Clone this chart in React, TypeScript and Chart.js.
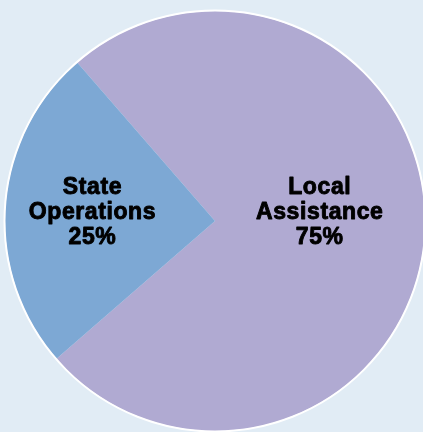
import React, { useEffect, useRef } from "react";
import { Chart, registerables } from "chart.js";

Chart.register(...registerables);

const categories = ["Local Assistance", "State Operations"];
const shareValues = [75, 25];
const labelLines = [["Local", "Assistance", "75%"], ["State", "Operations", "25%"]];
const sliceColors = ["#b0aad2", "#7da8d4"];

const outlinePlugin = {
  id: "outerOutline",
  afterDatasetsDraw(chart: any) {
    const { ctx } = chart;
    const arc: any = chart.getDatasetMeta(0).data[0];
    if (!arc) return;
    const { x, y, outerRadius } = arc.getProps(["x", "y", "outerRadius"], true);
    ctx.save();
    ctx.strokeStyle = "#ffffff";
    ctx.lineWidth = 2;
    ctx.beginPath();
    ctx.arc(x, y, outerRadius + 0.5, 0, Math.PI * 2);
    ctx.stroke();
    ctx.restore();
  },
};

const labelPlugin = {
  id: "sliceLabels",
  afterDatasetsDraw(chart: any) {
    const { ctx } = chart;
    const meta = chart.getDatasetMeta(0);
    const factors = [0.5, 0.585];
    ctx.save();
    ctx.font = "bold 23px 'Liberation Sans', Arial, sans-serif";
    try { (ctx as any).letterSpacing = "0.6px"; } catch (e) {}
    ctx.fillStyle = "#000";
    ctx.strokeStyle = "#000";
    ctx.lineWidth = 0.9;
    ctx.lineJoin = "round";
    ctx.textAlign = "center";
    ctx.textBaseline = "middle";
    meta.data.forEach((arc: any, i: number) => {
      const { x, y, startAngle, endAngle, outerRadius } = arc.getProps(["x", "y", "startAngle", "endAngle", "outerRadius"], true);
      const mid = (startAngle + endAngle) / 2;
      const lx = x + Math.cos(mid) * outerRadius * factors[i];
      const ly = y - 8;
      const lines = labelLines[i];
      const lh = 25;
      lines.forEach((t, j) => {
        const ty = ly + (j - (lines.length - 1) / 2) * lh;
        ctx.strokeText(t, lx, ty);
        ctx.fillText(t, lx, ty);
      });
    });
    ctx.restore();
  },
};

export default function App() {
  const ref = useRef<HTMLCanvasElement>(null);
  useEffect(() => {
    document.body.style.margin = "0";
    const chart = new Chart(ref.current!, {
      type: "pie",
      data: {
        labels: categories,
        datasets: [
          {
            data: shareValues,
            backgroundColor: sliceColors,
            borderWidth: 0,
          },
        ],
      },
      options: {
        animation: false,
        responsive: false,
        rotation: -41,
        layout: { padding: { top: 11, bottom: 1, left: 0, right: 0 } },
        plugins: { legend: { display: false }, tooltip: { enabled: false } },
      },
      plugins: [outlinePlugin, labelPlugin],
    });
    return () => chart.destroy();
  }, []);
  return (
    <div style={{ width: 423, height: 432, overflow: "hidden", background: "#e1ecf5" }}>
      <canvas ref={ref} width={430} height={432} style={{ display: "block" }} />
    </div>
  );
}
